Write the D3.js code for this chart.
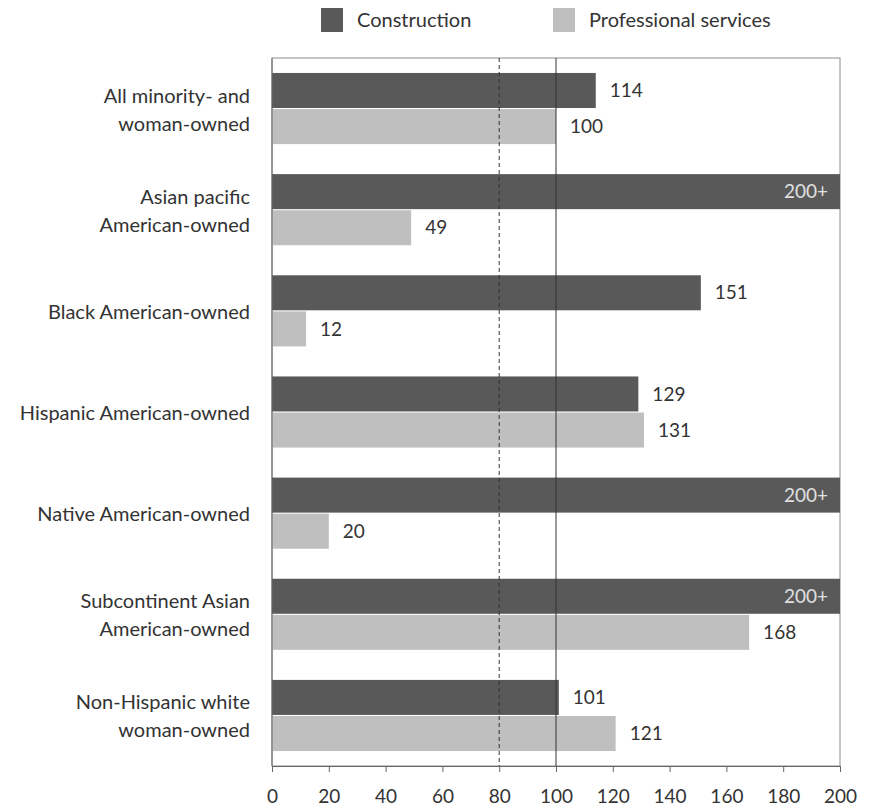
<!DOCTYPE html>
<html><head><meta charset="utf-8">
<script src="https://cdn.jsdelivr.net/npm/d3@7"></script>
<style>body{margin:0;background:#fff}svg{display:block}text{font-family:Lato,"Open Sans",sans-serif;fill:#333}</style>
</head><body><svg id="c" width="871" height="809"></svg>
<script>
const categories = [
  ["All minority- and","woman-owned"],
  ["Asian pacific","American-owned"],
  ["Black American-owned"],
  ["Hispanic American-owned"],
  ["Native American-owned"],
  ["Subcontinent Asian","American-owned"],
  ["Non-Hispanic white","woman-owned"]
];
const seriesNames = ["Construction","Professional services"];
const construction = [114, 200, 151, 129, 200, 200, 101];
const constructionLabels = ["114","200+","151","129","200+","200+","101"];
const professional = [100, 49, 12, 131, 20, 168, 121];
const professionalLabels = ["100","49","12","131","20","168","121"];
const tickValues = [0,20,40,60,80,100,120,140,160,180,200];
const refDashed = 80, refSolid = 100;

const colors = ["#595959","#bfbfbf"];
const svg = d3.select("#c");
const m = {l:272, r:840, t:58, b:766};
const x = d3.scaleLinear().domain([0,200]).range([m.l, m.r]);
const y = d3.scaleBand().domain(d3.range(categories.length)).range([m.t, m.b]).paddingInner(0.297).paddingOuter(0.148);
const y2 = d3.scaleBand().domain([0,1]).range([0, y.bandwidth()]).paddingInner(0.03);

// frame
svg.append("rect").attr("x",m.l).attr("y",m.t).attr("width",m.r-m.l).attr("height",m.b-m.t)
  .attr("fill","none").attr("stroke","#8c8c8c").attr("stroke-width",1);

const series = [
  {vals: construction, labels: constructionLabels},
  {vals: professional, labels: professionalLabels}
];
series.forEach((s, si) => {
  const g = svg.append("g");
  g.selectAll("rect").data(s.vals).join("rect")
    .attr("x", x(0)).attr("y", (d,i) => y(i) + y2(si))
    .attr("width", d => x(d) - x(0)).attr("height", y2.bandwidth())
    .attr("fill", colors[si]);
  g.selectAll("text").data(s.vals).join("text")
    .attr("x", (d) => d >= 200 ? x(d) - 12 : x(d) + 14)
    .attr("y", (d,i) => y(i) + y2(si) + y2.bandwidth()/2)
    .attr("dy","0.35em")
    .attr("text-anchor", d => d >= 200 ? "end" : "start")
    .style("fill", d => d >= 200 ? "#e0e0e0" : "#333")
    .attr("font-size", 19)
    .text((d,i) => s.labels[i]);
});

// reference lines
svg.append("line").attr("x1",x(refDashed)).attr("x2",x(refDashed)).attr("y1",m.t).attr("y2",m.b)
  .attr("stroke","#333").attr("stroke-width",1).attr("stroke-dasharray","4,3");
svg.append("line").attr("x1",x(refSolid)).attr("x2",x(refSolid)).attr("y1",m.t).attr("y2",m.b)
  .attr("stroke","#333").attr("stroke-width",1);

// axes
const xAxis = svg.append("g").attr("transform",`translate(0,${m.b})`)
  .call(d3.axisBottom(x).tickValues(tickValues).tickSize(6).tickPadding(18));
xAxis.selectAll("text").attr("font-size",19).style("font-family","Lato, sans-serif").style("fill","#333");
xAxis.selectAll("line,path").attr("stroke","#666");
svg.append("line").attr("x1",m.l).attr("x2",m.l).attr("y1",m.t).attr("y2",m.b).attr("stroke","#666");

// category labels
categories.forEach((lines, i) => {
  const cy = y(i) + y.bandwidth()/2 + 1;
  const t = svg.append("text").attr("x", 250).attr("text-anchor","end").attr("font-size",20);
  lines.forEach((ln, j) => {
    t.append("tspan").attr("x",250).attr("y", cy + (j - (lines.length-1)/2)*28).attr("dy","0.35em").text(ln);
  });
});

// legend
const legX = [321, 553];
seriesNames.forEach((n, i) => {
  svg.append("rect").attr("x",legX[i]).attr("y",8).attr("width",22).attr("height",24).attr("fill",colors[i]);
  svg.append("text").attr("x",legX[i]+36).attr("y",20).attr("dy","0.35em").attr("font-size",20).text(n);
});
</script></body></html>
